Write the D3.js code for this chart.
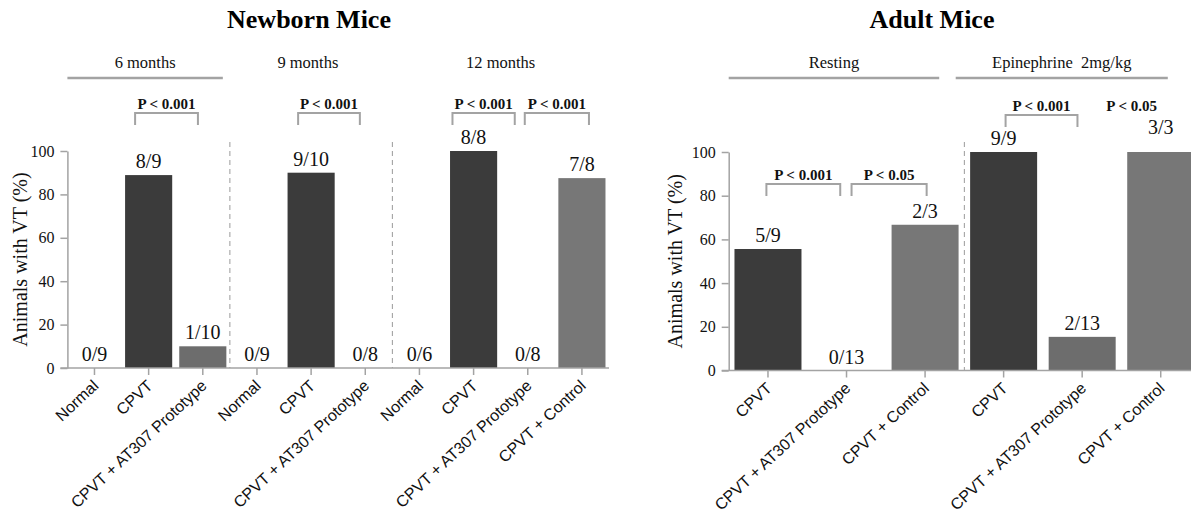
<!DOCTYPE html>
<html>
<head>
<meta charset="utf-8">
<script src="https://cdn.jsdelivr.net/npm/d3@7"></script>
<style>
  html, body { margin: 0; padding: 0; background: #fff; }
  svg { display: block; }
</style>
</head>
<body>
<svg id="chart" width="1191" height="513"></svg>
<script>
// ---------------- DATA ----------------
const leftTitle = "Newborn Mice";
const rightTitle = "Adult Mice";
const yLabel = "Animals with VT (%)";
const yTicks = [0, 20, 40, 60, 80, 100];

const leftCategories = ["Normal", "CPVT", "CPVT + AT307 Prototype",
                        "Normal", "CPVT", "CPVT + AT307 Prototype",
                        "Normal", "CPVT", "CPVT + AT307 Prototype", "CPVT + Control"];
const leftValues = [0, 88.9, 10, 0, 90, 0, 0, 100, 0, 87.5];
const leftCounts = ["0/9", "8/9", "1/10", "0/9", "9/10", "0/8", "0/6", "8/8", "0/8", "7/8"];
const leftGroups = ["6 months", "9 months", "12 months"];
const leftPValues = ["P < 0.001", "P < 0.001", "P < 0.001", "P < 0.001"];

const rightCategories = ["CPVT", "CPVT + AT307 Prototype", "CPVT + Control",
                         "CPVT", "CPVT + AT307 Prototype", "CPVT + Control"];
const rightValues = [55.6, 0, 66.7, 100, 15.4, 100];
const rightCounts = ["5/9", "0/13", "2/3", "9/9", "2/13", "3/3"];
const rightGroups = ["Resting", "Epinephrine  2mg/kg"];
const rightPValues = ["P < 0.001", "P < 0.05", "P < 0.001", "P < 0.05"];

// ---------------- LAYOUT / STYLE ----------------
const SERIF = "'Liberation Serif', 'Times New Roman', serif";
const SANS = "'Liberation Sans', Arial, sans-serif";
const AXIS_COLOR = "#a3a3a3";
const colorFor = c => c === "CPVT" ? "#3b3b3b" : (c.indexOf("AT307") >= 0 ? "#6d6d6d" : "#777777");

const panels = [
  {
    title: leftTitle, titleX: 309,
    cats: leftCategories, values: leftValues, counts: leftCounts,
    xRange: [67.4, 609], yRange: [368, 151], pad: 0.13,
    yLabelX: 20,
    dividers: [3, 6],
    groups: [
      {label: leftGroups[0], from: 0, to: 3, line: [0, -0.13]},
      {label: leftGroups[1], from: 3, to: 6, shift: -0.06},
      {label: leftGroups[2], from: 6, to: 10}
    ],
    brackets: [
      {p: leftPValues[0], a: 1, da: -0.25, b: 2, db: -0.09, top: 117.5, bot: 112},
      {p: leftPValues[1], a: 4, da: -0.24, b: 5, db: -0.10, top: 117.5, bot: 112},
      {p: leftPValues[2], a: 7, da: -0.39, b: 8, db: -0.24, top: 117.5, bot: 112},
      {p: leftPValues[3], a: 8, da: -0.055, b: 9, db: 0.13, top: 117.5, bot: 112}
    ],
    lift: {}
  },
  {
    title: rightTitle, titleX: 932,
    cats: rightCategories, values: rightValues, counts: rightCounts,
    xRange: [728.7, 1200], yRange: [370.5, 152], pad: 0.147,
    yLabelX: 675,
    dividers: [3],
    groups: [
      {label: rightGroups[0], from: 0, to: 3, line: [0, -0.32]},
      {label: rightGroups[1], from: 3, to: 6, line: [-0.11, -0.41]}
    ],
    brackets: [
      {p: rightPValues[0], a: 0, da: -0.02, b: 1, db: -0.08, top: 85.4, bot: 79.9},
      {p: rightPValues[1], a: 1, da: 0.064, b: 2, db: 0.02, top: 85.4, bot: 79.9},
      {p: rightPValues[2], a: 3, da: 0.025, b: 4, db: -0.06, top: 116.9, bot: 111.4},
      {p: rightPValues[3], a: 5, da: -0.37, b: 5, db: -0.37, top: 116.9, bot: 111.4, noBracket: true}
    ],
    lift: {5: 11}
  }
];

const svg = d3.select("#chart");

panels.forEach(P => {
  const idx = P.cats.map((c, i) => i);
  const x = d3.scaleBand().domain(idx).range(P.xRange)
              .paddingInner(P.pad).paddingOuter(P.pad / 2);
  const y = d3.scaleLinear().domain([0, 100]).range(P.yRange);
  const step = x.step();
  const cx = i => x(i) + x.bandwidth() / 2;
  const edge = u => P.xRange[0] + u * step;  // band-unit position
  const g = svg.append("g");

  // Title
  g.append("text").attr("x", P.titleX).attr("y", 28)
    .attr("text-anchor", "middle").attr("font-family", SERIF)
    .attr("font-weight", "bold").attr("font-size", 26).attr("fill", "#000")
    .text(P.title);

  // Group headers
  P.groups.forEach(gr => {
    let c = (edge(gr.from) + edge(gr.to)) / 2 + (gr.shift || 0) * step;
    if (gr.line) {
      const x1 = edge(gr.from + gr.line[0]), x2 = edge(gr.to + gr.line[1]);
      g.append("line").attr("x1", x1).attr("x2", x2).attr("y1", 78).attr("y2", 78)
        .attr("stroke", "#a3a3a3").attr("stroke-width", 2.5);
      c = (x1 + x2) / 2;
    }
    g.append("text").attr("x", c).attr("y", 68)
      .attr("text-anchor", "middle").attr("font-family", SERIF)
      .attr("font-size", 16.5).attr("fill", "#111")
      .style("white-space", "pre")
      .text(gr.label);
  });

  // Dividers
  P.dividers.forEach(d => {
    g.append("line").attr("x1", edge(d)).attr("x2", edge(d))
      .attr("y1", 142).attr("y2", P.yRange[0])
      .attr("stroke", "#9a9a9a").attr("stroke-width", 1)
      .attr("stroke-dasharray", "5,4");
  });

  // Bars
  g.selectAll("rect.bar").data(P.values).join("rect")
    .attr("class", "bar")
    .attr("x", (d, i) => x(i))
    .attr("width", x.bandwidth())
    .attr("y", d => y(d))
    .attr("height", d => y(0) - y(d))
    .attr("fill", (d, i) => colorFor(P.cats[i]));

  // Value labels
  g.selectAll("text.count").data(P.counts).join("text")
    .attr("class", "count")
    .attr("x", (d, i) => cx(i))
    .attr("y", (d, i) => y(P.values[i]) - 7 - (P.lift[i] || 0))
    .attr("text-anchor", "middle").attr("font-family", SERIF)
    .attr("font-size", 20).attr("fill", "#111")
    .text(d => d);

  // Y axis
  const yAxis = d3.axisLeft(y).tickValues(yTicks).tickSize(7).tickPadding(6).tickSizeOuter(0);
  const ya = g.append("g").attr("transform", `translate(${P.xRange[0]},0)`).call(yAxis);
  ya.select(".domain").attr("stroke", AXIS_COLOR).attr("stroke-width", 1.5);
  ya.selectAll(".tick line").attr("stroke", AXIS_COLOR).attr("stroke-width", 1.5);
  ya.selectAll(".tick text").attr("font-family", SERIF).attr("font-size", 16).attr("fill", "#111");

  // X axis
  const xAxis = d3.axisBottom(x).tickSize(7).tickSizeOuter(0).tickFormat(() => "");
  const xa = g.append("g").attr("transform", `translate(0,${y(0)})`).call(xAxis);
  xa.select(".domain").attr("stroke", AXIS_COLOR).attr("stroke-width", 1.5)
    .attr("d", `M${P.xRange[0] - 7},0H${P.xRange[1]}`);
  xa.selectAll(".tick line").attr("stroke", AXIS_COLOR).attr("stroke-width", 1.5);
  g.selectAll("text.xlab").data(P.cats).join("text")
    .attr("class", "xlab")
    .attr("transform", (d, i) => `translate(${cx(i) + 5},${y(0) + 19}) rotate(-43)`)
    .attr("text-anchor", "end").attr("font-family", SANS)
    .attr("font-size", 16).attr("fill", "#111")
    .text(d => d);

  // Y label
  const ymid = (P.yRange[0] + P.yRange[1]) / 2;
  g.append("text")
    .attr("transform", `translate(${P.yLabelX},${ymid}) rotate(-90)`)
    .attr("text-anchor", "middle").attr("dominant-baseline", "central")
    .attr("font-family", SERIF).attr("font-size", 20).attr("fill", "#111")
    .text(yLabel);

  // Significance brackets
  P.brackets.forEach(b => {
    const x1 = cx(b.a) + b.da * step, x2 = cx(b.b) + b.db * step;
    const yt = y(b.top), yb = y(b.bot);
    if (!b.noBracket) {
      g.append("path")
        .attr("d", `M${x1},${yb}V${yt}H${x2}V${yb}`)
        .attr("fill", "none").attr("stroke", "#a3a3a3").attr("stroke-width", 2);
    }
    g.append("text").attr("x", (x1 + x2) / 2).attr("y", yt - 4)
      .attr("text-anchor", "middle").attr("font-family", SERIF)
      .attr("font-weight", "bold").attr("font-size", 15).attr("fill", "#111")
      .text(b.p);
  });
});
</script>
</body>
</html>
